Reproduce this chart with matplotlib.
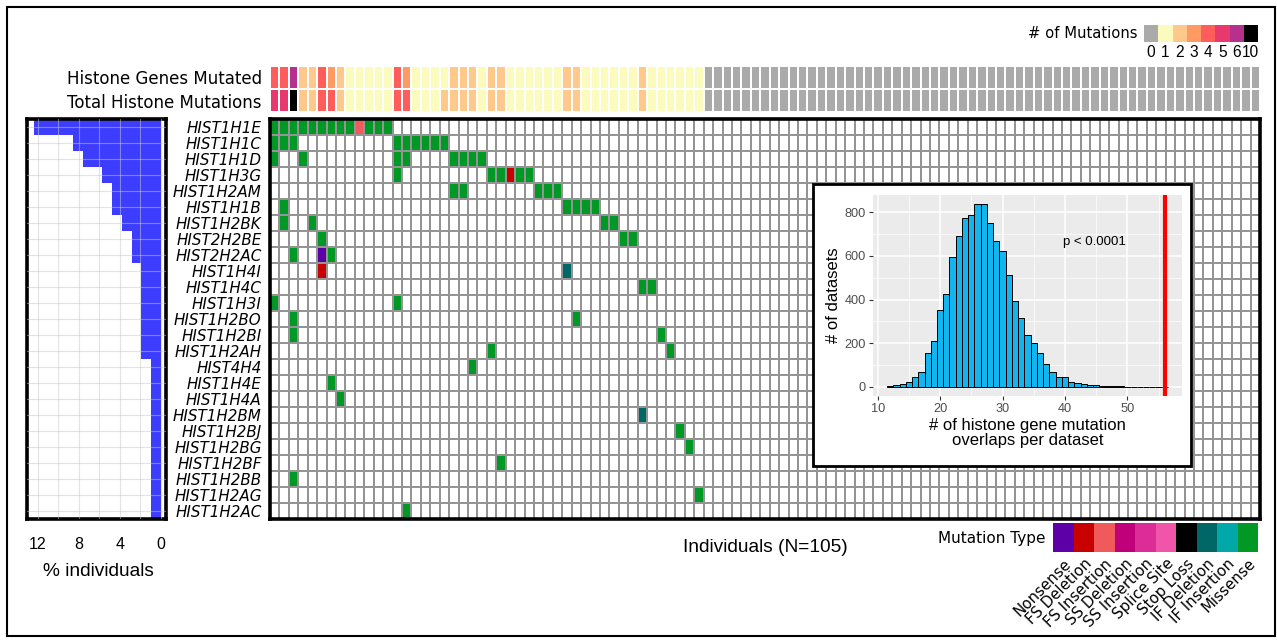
import numpy as np
import matplotlib
matplotlib.use("Agg")
import matplotlib.pyplot as plt
from matplotlib.colors import ListedColormap
from matplotlib.patches import Rectangle
from matplotlib import font_manager

# ---------------- data ----------------
genes = ["HIST1H1E", "HIST1H1C", "HIST1H1D", "HIST1H3G", "HIST1H2AM", "HIST1H1B",
         "HIST1H2BK", "HIST2H2BE", "HIST2H2AC", "HIST1H4I", "HIST1H4C", "HIST1H3I",
         "HIST1H2BO", "HIST1H2BI", "HIST1H2AH", "HIST4H4", "HIST1H4E", "HIST1H4A",
         "HIST1H2BM", "HIST1H2BJ", "HIST1H2BG", "HIST1H2BF", "HIST1H2BB", "HIST1H2AG",
         "HIST1H2AC"]
n_individuals = 105

# individuals (column index) carrying a mutation, one list per gene
mutated_individuals = [
    [0, 1, 2, 3, 4, 5, 6, 7, 8, 9, 10, 11, 12],
    [0, 1, 2, 13, 14, 15, 16, 17, 18],
    [0, 3, 13, 14, 19, 20, 21, 22],
    [13, 23, 24, 25, 26, 27],
    [19, 20, 28, 29, 30],
    [1, 31, 32, 33, 34],
    [1, 4, 35, 36],
    [5, 37, 38],
    [2, 5, 6],
    [5, 31],
    [39, 40],
    [0, 13],
    [2, 32],
    [2, 41],
    [23, 42],
    [21],
    [6],
    [7],
    [39],
    [43],
    [44],
    [24],
    [2],
    [45],
    [14],
]
# all mutations are Missense except these (gene row, individual, type)
non_missense = [(0, 9, "FS Insertion"), (3, 25, "FS Deletion"), (8, 5, "Nonsense"),
                (9, 5, "FS Deletion"), (9, 31, "IF Deletion"), (18, 39, "IF Deletion")]

mutation_types = ["Nonsense", "FS Deletion", "FS Insertion", "SS Deletion", "SS Insertion",
                  "Splice Site", "Stop Loss", "IF Deletion", "IF Insertion", "Missense"]
type_colors = ["#5E00A8", "#C80000", "#F05A5A", "#C0007A", "#DC2C96",
               "#F055AA", "#000000", "#006767", "#00A8A8", "#009926"]

genes_mutated = [4, 4, 6, 2, 2, 4, 3, 2, 1, 1, 1, 1, 1, 4, 3, 1, 1, 1, 1, 2, 2,
                 2, 1, 2, 2, 1, 1, 1, 1, 1, 1, 2, 2, 1, 1, 1, 1, 1, 1, 2, 1, 1,
                 1, 1, 1, 1, 0, 0, 0, 0, 0, 0, 0, 0, 0, 0, 0, 0, 0, 0, 0, 0, 0,
                 0, 0, 0, 0, 0, 0, 0, 0, 0, 0, 0, 0, 0, 0, 0, 0, 0, 0, 0, 0, 0,
                 0, 0, 0, 0, 0, 0, 0, 0, 0, 0, 0, 0, 0, 0, 0, 0, 0, 0, 0, 0, 0]
total_mutations = [5, 5, 10, 2, 2, 4, 4, 2, 1, 1, 1, 1, 1, 4, 4, 1, 1, 1, 2, 2, 2,
                   2, 1, 2, 2, 1, 1, 1, 1, 1, 1, 2, 2, 1, 1, 1, 1, 1, 1, 2, 1, 1,
                   1, 1, 1, 1, 0, 0, 0, 0, 0, 0, 0, 0, 0, 0, 0, 0, 0, 0, 0, 0, 0,
                   0, 0, 0, 0, 0, 0, 0, 0, 0, 0, 0, 0, 0, 0, 0, 0, 0, 0, 0, 0, 0,
                   0, 0, 0, 0, 0, 0, 0, 0, 0, 0, 0, 0, 0, 0, 0, 0, 0, 0, 0, 0, 0]
count_levels = [0, 1, 2, 3, 4, 5, 6, 10]
count_colors = ["#AAAAAA", "#FBFBBE", "#FEC98A", "#FE9A63", "#FF5C5C",
                "#E8396F", "#B5318B", "#000000"]

overlap_values = [12, 13, 14, 15, 16, 17, 18, 19, 20, 21, 22, 23, 24, 25, 26, 27, 28,
                  29, 30, 31, 32, 33, 34, 35, 36, 37, 38, 39, 40, 41, 42, 43, 44, 45,
                  46, 47, 48, 49, 50, 51, 52, 53, 54, 55, 56]
overlap_counts = [5, 9, 14, 21, 47, 70, 154, 211, 350, 427, 595, 693, 774, 788, 837,
                  837, 750, 667, 622, 512, 392, 314, 239, 199, 153, 106, 70, 46, 43, 24,
                  17, 15, 9, 8, 5, 3, 2, 2, 1, 1, 1, 1, 0, 1, 1]
observed_overlaps = 56

# ---------------- fonts ----------------
names = {f.name for f in font_manager.fontManager.ttflist}
ARIAL = "Liberation Sans" if "Liberation Sans" in names else "DejaVu Sans"
plt.rcParams["font.family"] = ["DejaVu Sans"]

W, H = 1277, 642
fig = plt.figure(figsize=(W / 100, H / 100), dpi=100)


def px_axes(x0, y0, x1, y1):
    return fig.add_axes([x0 / W, 1 - y1 / H, (x1 - x0) / W, (y1 - y0) / H])


def ftext(x, y, s, **kw):
    return fig.text(x / W, 1 - y / H, s, **kw)


ng = len(genes)

# ---------------- oncoprint matrix ----------------
mat = np.zeros((ng, n_individuals), dtype=int)
miss = mutation_types.index("Missense") + 1
for r, cols in enumerate(mutated_individuals):
    for c in cols:
        mat[r, c] = miss
for r, c, t in non_missense:
    mat[r, c] = mutation_types.index(t) + 1

ax = px_axes(270, 119, 1260, 519)
ax.pcolormesh(np.arange(n_individuals + 1), np.arange(ng + 1), mat,
              cmap=ListedColormap(["white"] + type_colors),
              vmin=-0.5, vmax=len(type_colors) + 0.5,
              edgecolors="#949494", linewidth=1.1)
ax.set_xlim(0, n_individuals)
ax.set_ylim(ng, 0)
ax.set_xticks([])
ax.set_yticks(np.arange(ng) + 0.5)
ax.set_yticklabels(genes, fontsize=10.9, style="italic", family="DejaVu Sans")
ax.tick_params(axis="y", length=0, pad=6)
for s in ax.spines.values():
    s.set_linewidth(2.6)
ftext(765, 547, "Individuals (N=105)", fontsize=13.8, family=ARIAL,
      ha="center", va="center")

# ---------------- left bar chart ----------------
axb = px_axes(27, 119, 166, 519)
pct = [len(c) / n_individuals * 100 for c in mutated_individuals]
axb.barh(np.arange(ng) + 0.5, pct, height=1.0, color="#3D3DFF", zorder=1)
axb.set_xlim(13.07, -0.49)
axb.set_ylim(ng, 0)
axb.set_xticks([0, 4, 8, 12])
axb.set_xticks([2, 6, 10], minor=True)
axb.set_xticklabels(["0", "4", "8", "12"], fontsize=11.5, family=ARIAL)
axb.set_yticks(np.arange(ng) + 0.5)
axb.set_yticklabels([])
axb.tick_params(axis="both", which="both", length=0)
axb.tick_params(axis="x", pad=13)
axb.set_axisbelow(False)
axb.grid(True, which="both", color="#C8C8C8", alpha=0.5, lw=0.8)
for s in axb.spines.values():
    s.set_linewidth(2.6)
ftext(98, 571, "% individuals", fontsize=13.8, family=ARIAL, ha="center", va="center")

# ---------------- top annotation ----------------
axa = px_axes(270, 66, 1260, 112)
ann = np.array([[count_levels.index(v) for v in genes_mutated],
                [count_levels.index(v) for v in total_mutations]])
axa.pcolormesh(np.arange(n_individuals + 1), np.arange(3), ann,
               cmap=ListedColormap(count_colors), vmin=-0.5,
               vmax=len(count_colors) - 0.5, edgecolors="white", linewidth=1.3)
axa.set_xlim(0, n_individuals)
axa.set_ylim(2, 0)
axa.set_xticks([])
axa.set_yticks([0.5, 1.5])
axa.set_yticklabels(["Histone Genes Mutated", "Total Histone Mutations"], fontsize=12)
axa.tick_params(axis="y", length=0, pad=6)
for s in axa.spines.values():
    s.set_visible(False)

# ---------------- # of mutations legend ----------------
axl = px_axes(1144, 25, 1258, 42)
axl.pcolormesh(np.arange(len(count_levels) + 1), [0, 1],
               np.arange(len(count_levels))[None, :],
               cmap=ListedColormap(count_colors), vmin=-0.5,
               vmax=len(count_colors) - 0.5)
axl.set_xlim(0, len(count_levels))
axl.set_ylim(0, 1)
axl.set_yticks([])
axl.set_xticks(np.arange(len(count_levels)) + 0.5)
axl.set_xticklabels([str(v) for v in count_levels], fontsize=11.2, family=ARIAL)
axl.tick_params(axis="x", length=0, pad=2.5)
for s in axl.spines.values():
    s.set_visible(False)
ftext(1137, 33, "# of Mutations", fontsize=10.6, ha="right", va="center")

# ---------------- mutation type legend ----------------
axm = px_axes(1053, 523, 1258, 552)
axm.pcolormesh(np.arange(len(mutation_types) + 1), [0, 1],
               np.arange(len(mutation_types))[None, :],
               cmap=ListedColormap(type_colors), vmin=-0.5,
               vmax=len(type_colors) - 0.5)
axm.set_xlim(0, len(mutation_types))
axm.set_ylim(0, 1)
axm.set_yticks([])
axm.set_xticks(np.arange(len(mutation_types)) + 0.5)
axm.set_xticklabels(mutation_types, rotation=45, ha="right", rotation_mode="anchor",
                    fontsize=10.8)
axm.tick_params(axis="x", length=0, pad=3)
for s in axm.spines.values():
    s.set_visible(False)
ftext(1046, 538, "Mutation Type", fontsize=11, ha="right", va="center")

# ---------------- inset histogram ----------------
fig.patches.append(Rectangle((813 / W, 1 - 466 / H), 378 / W, 282 / H,
                             transform=fig.transFigure, facecolor="white",
                             edgecolor="black", lw=2, zorder=5))
axh = px_axes(873, 195, 1182, 396)
axh.set_zorder(6)
axh.set_facecolor("#EBEBEB")
axh.bar(overlap_values, overlap_counts, width=1.0, color="#12B5EE",
        edgecolor="black", linewidth=0.7, zorder=3)
axh.axvline(observed_overlaps, color="#FF0000", lw=3, zorder=4)
axh.set_xlim(9.25, 58.75)
axh.set_ylim(-41.85, 878.85)
axh.set_xticks([10, 20, 30, 40, 50])
axh.set_xticks([15, 25, 35, 45, 55], minor=True)
axh.set_yticks([0, 200, 400, 600, 800])
axh.set_yticks([100, 300, 500, 700], minor=True)
axh.grid(True, which="major", color="white", lw=1.1, zorder=0)
axh.grid(True, which="minor", color="white", lw=0.5, zorder=0)
axh.set_axisbelow(True)
for s in axh.spines.values():
    s.set_visible(False)
axh.tick_params(axis="both", which="major", length=3, color="#333333",
                labelcolor="#4D4D4D", labelsize=9.2, pad=2)
axh.tick_params(axis="both", which="minor", length=0)
for lab in axh.get_xticklabels() + axh.get_yticklabels():
    lab.set_family(ARIAL)
axh.set_ylabel("# of datasets", fontsize=12, family=ARIAL, labelpad=3)
axh.set_xlabel("# of histone gene mutation\noverlaps per dataset", fontsize=12,
               family=ARIAL, labelpad=2, linespacing=1.0)
axh.text(44.7, 665, "p < 0.0001", fontsize=9.5, family=ARIAL, ha="center",
         va="center")

# ---------------- outer frame ----------------
fig.patches.append(Rectangle((7 / W, 6 / H), 1268 / W, 629 / H,
                             transform=fig.transFigure, fill=False,
                             edgecolor="black", lw=1.5, zorder=10))

fig.savefig("out.png", dpi=100)
